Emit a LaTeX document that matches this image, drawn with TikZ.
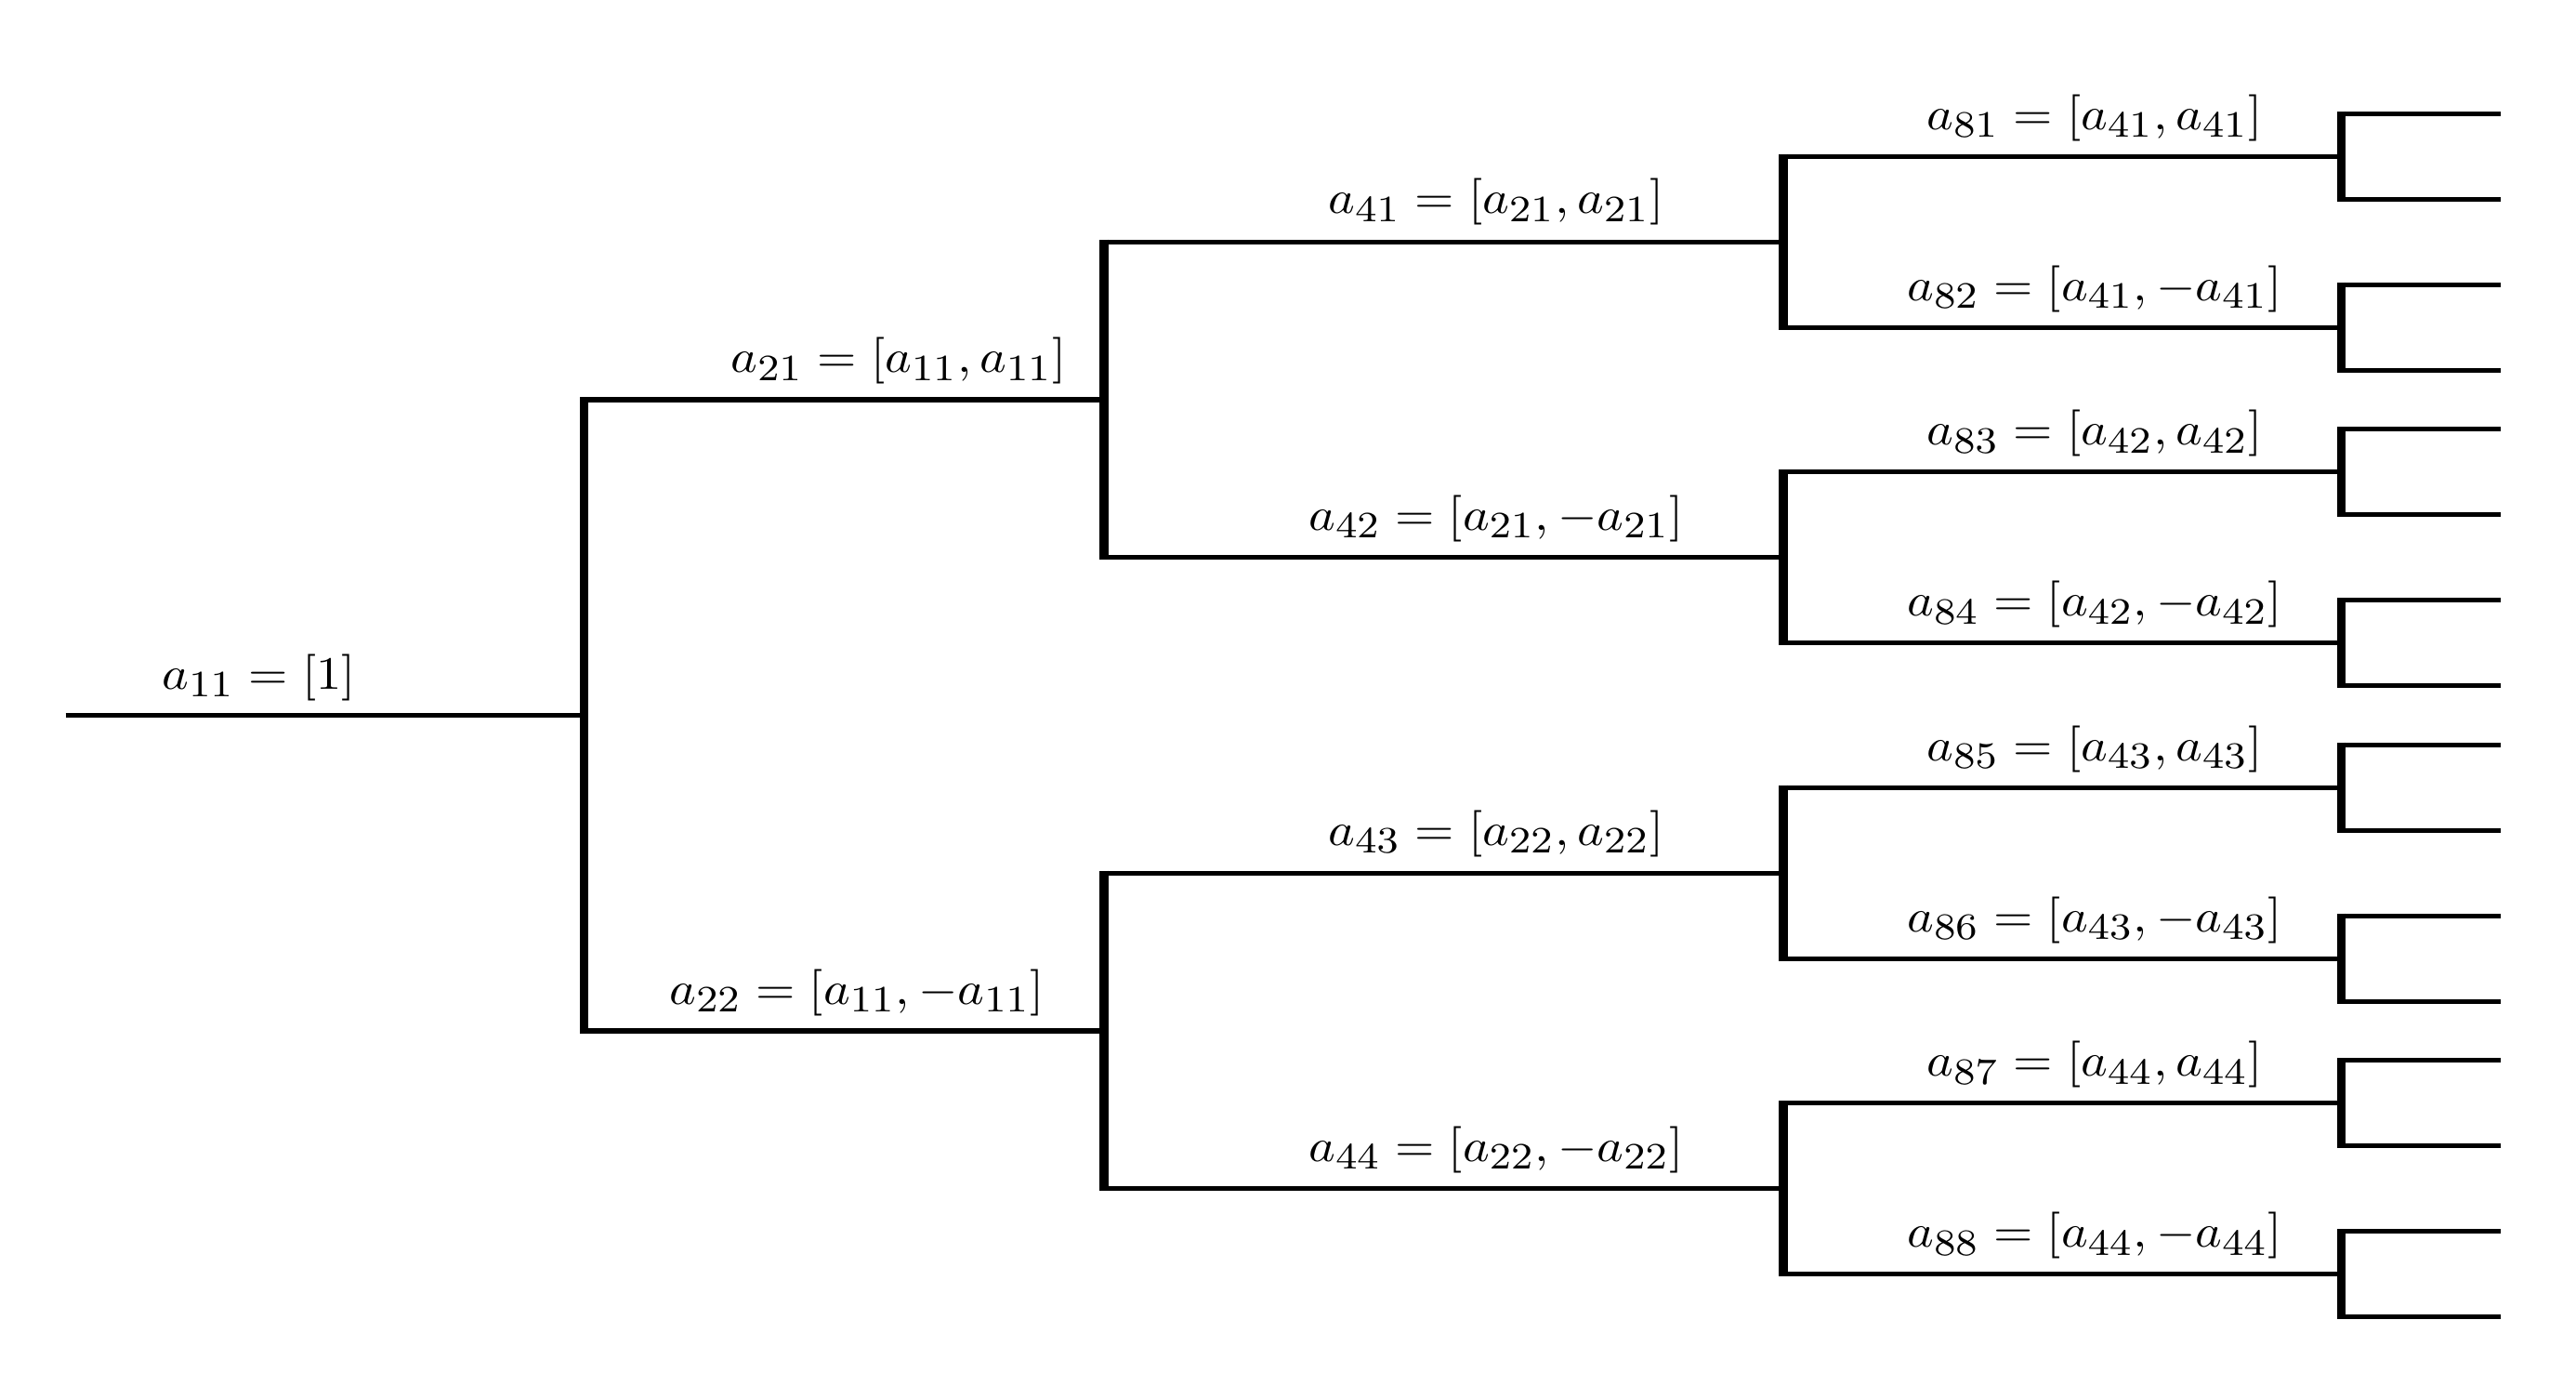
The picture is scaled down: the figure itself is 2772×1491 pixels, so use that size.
\documentclass[tikz,border=0pt]{standalone}
\usepackage{graphicx}
\DeclareMathSizes{10}{10}{8}{6}
\newcommand\lab[1]{\scalebox{1.09}[1]{$#1$}}
\begin{document}
\begin{tikzpicture}[x=0.2pt,y=-0.2pt,
  hline/.style={line width=1.04pt,line cap=butt},
  vline/.style={line width=1.9pt,line cap=butt},
  lbl/.style={anchor=base,inner sep=0pt,outer sep=0pt}]
\useasboundingbox (0,0) rectangle (2772,1491);
% level x positions
\def\xa{70.5}\def\xb{628.5}\def\xc{1188}\def\xd{1919}\def\xe{2519.5}\def\xf{2691}
% root
\coordinate (s0) at (\xa,769.5);
\coordinate (j0) at (\xb,769.5);
\draw[hline] (s0) -- (j0);
\node[lbl] (l11) at (278.6,741) {\lab{a_{11}=[1]}};
% level 1
\foreach \n/\y in {21/430,22/1109}{
  \coordinate (p\n) at (\xb,\y);
  \coordinate (q\n) at (\xc,\y);
  \draw[hline] (p\n) -- (q\n);
}
\draw[vline] ([yshift=0.52pt]p21) -- ([yshift=-0.52pt]p22);
\node[lbl] (l21) at (967,401) {\lab{a_{21}=[a_{11},a_{11}]}};
\node[lbl] (l22) at (922,1080) {\lab{a_{22}=[a_{11},-a_{11}]}};
% level 2
\foreach \n/\y in {41/260.3,42/599.7,43/939.3,44/1278.7}{
  \coordinate (p\n) at (\xc,\y);
  \coordinate (q\n) at (\xd,\y);
  \draw[hline] (p\n) -- (q\n);
}
\draw[vline] ([yshift=0.52pt]p41) -- ([yshift=-0.52pt]p42);
\draw[vline] ([yshift=0.52pt]p43) -- ([yshift=-0.52pt]p44);
\node[lbl] (l41) at (1610,230) {\lab{a_{41}=[a_{21},a_{21}]}};
\node[lbl] (l42) at (1610,570) {\lab{a_{42}=[a_{21},-a_{21}]}};
\node[lbl] (l43) at (1610,909) {\lab{a_{43}=[a_{22},a_{22}]}};
\node[lbl] (l44) at (1610,1249) {\lab{a_{44}=[a_{22},-a_{22}]}};
% level 3
\foreach \n/\y in {81/168.3,82/352.3,83/507.7,84/691.7,85/847.3,86/1031.3,87/1186.7,88/1370.7}{
  \coordinate (p\n) at (\xd,\y);
  \coordinate (q\n) at (\xe,\y);
  \draw[hline] (p\n) -- (q\n);
  % level 4 stubs
  \coordinate (u\n) at (\xe,\y-46);
  \coordinate (d\n) at (\xe,\y+46);
  \coordinate (ue\n) at (\xf,\y-46);
  \coordinate (de\n) at (\xf,\y+46);
  \draw[hline] (u\n) -- (ue\n);
  \draw[hline] (d\n) -- (de\n);
  \draw[vline] ([yshift=0.52pt]u\n) -- ([yshift=-0.52pt]d\n);
}
\draw[vline] ([yshift=0.52pt]p81) -- ([yshift=-0.52pt]p82);
\draw[vline] ([yshift=0.52pt]p83) -- ([yshift=-0.52pt]p84);
\draw[vline] ([yshift=0.52pt]p85) -- ([yshift=-0.52pt]p86);
\draw[vline] ([yshift=0.52pt]p87) -- ([yshift=-0.52pt]p88);
\node[lbl] (l81) at (2254,139.3) {\lab{a_{81}=[a_{41},a_{41}]}};
\node[lbl] (l82) at (2254,323.3) {\lab{a_{82}=[a_{41},-a_{41}]}};
\node[lbl] (l83) at (2254,478.7) {\lab{a_{83}=[a_{42},a_{42}]}};
\node[lbl] (l84) at (2254,662.7) {\lab{a_{84}=[a_{42},-a_{42}]}};
\node[lbl] (l85) at (2254,818.3) {\lab{a_{85}=[a_{43},a_{43}]}};
\node[lbl] (l86) at (2254,1002.3) {\lab{a_{86}=[a_{43},-a_{43}]}};
\node[lbl] (l87) at (2254,1157.7) {\lab{a_{87}=[a_{44},a_{44}]}};
\node[lbl] (l88) at (2254,1341.7) {\lab{a_{88}=[a_{44},-a_{44}]}};
\end{tikzpicture}
\end{document}
